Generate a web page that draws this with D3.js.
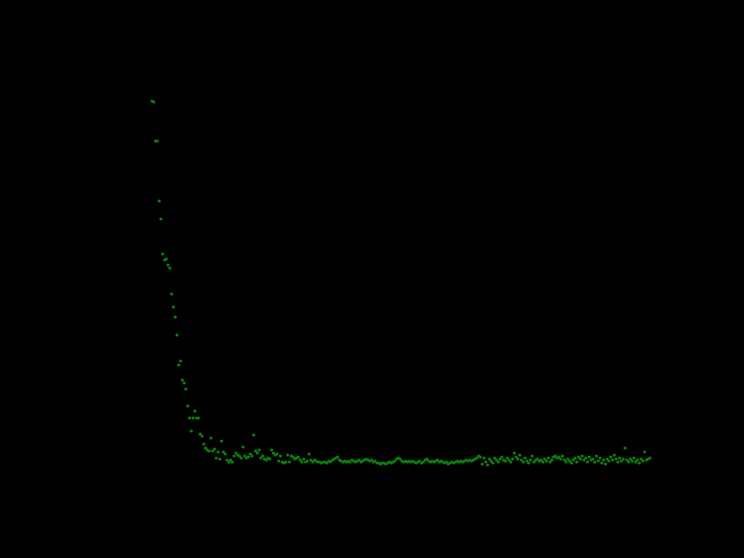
<!DOCTYPE html>
<html>
<head>
<meta charset="utf-8">
<script src="https://cdn.jsdelivr.net/npm/d3@7"></script>
<style>
  html, body { margin: 0; padding: 0; background: #000; }
  svg { display: block; }
</style>
</head>
<body>
<svg width="744" height="558"></svg>
<script>
// loss per step
const lossHead = [
  3.69, 3.68, 3.29, 3.29, 2.69, 2.51, 2.16, 2.10, 2.11, 2.05,
  2.02, 1.76, 1.63, 1.53, 1.35, 1.05, 1.09, 0.90, 0.87, 0.81,
  0.64, 0.52, 0.39, 0.52, 0.59, 0.52, 0.52, 0.36, 0.34, 0.26,
];
const lossMid = [
  0.22, 0.20, 0.19, 0.32, 0.19, 0.21, 0.12, 0.18, 0.11, 0.29,
  0.18, 0.16, 0.10, 0.08, 0.10, 0.08, 0.14, 0.17, 0.15, 0.14,
  0.12, 0.23, 0.14, 0.12, 0.13, 0.16, 0.14, 0.35, 0.19, 0.17,
  0.20, 0.12, 0.14, 0.11, 0.10, 0.12, 0.11, 0.20, 0.17, 0.15,
  0.16, 0.09, 0.14, 0.08, 0.07, 0.08, 0.15, 0.08, 0.14, 0.13,
  0.11, 0.12, 0.13, 0.10, 0.08, 0.11, 0.08, 0.09, 0.16, 0.10,
  0.08, 0.10, 0.09, 0.08, 0.08, 0.07, 0.08, 0.08, 0.07, 0.09,
  0.08, 0.10, 0.11, 0.12, 0.13, 0.10, 0.09, 0.08, 0.09, 0.08,
  0.09, 0.08, 0.10, 0.09, 0.08, 0.09, 0.10, 0.08, 0.09, 0.10,
  0.11, 0.10, 0.09, 0.10, 0.08, 0.09, 0.07, 0.07, 0.06, 0.07,
  0.07, 0.06, 0.07, 0.08, 0.07, 0.08, 0.09, 0.11, 0.12, 0.11,
  0.09, 0.08, 0.09, 0.08, 0.09, 0.08, 0.09, 0.08, 0.07, 0.08,
];
const lossTail = [
  0.09, 0.07, 0.08, 0.10, 0.11, 0.09, 0.08, 0.09, 0.08, 0.09,
  0.10, 0.08, 0.09, 0.08, 0.07, 0.08, 0.06, 0.07, 0.08, 0.07,
  0.08, 0.09, 0.08, 0.09, 0.08, 0.09, 0.10, 0.09, 0.10, 0.09,
  0.10, 0.11, 0.12, 0.14, 0.13, 0.06, 0.12, 0.08, 0.05, 0.11,
  0.09, 0.07, 0.12, 0.10, 0.08, 0.11, 0.13, 0.10, 0.09, 0.12,
  0.10, 0.08, 0.11, 0.17, 0.13, 0.11, 0.15, 0.10, 0.08, 0.12,
  0.09, 0.07, 0.10, 0.14, 0.08, 0.10, 0.11, 0.09, 0.10, 0.08,
  0.11, 0.09, 0.12, 0.08, 0.10, 0.13, 0.14, 0.12, 0.13, 0.11,
  0.14, 0.10, 0.08, 0.11, 0.09, 0.07, 0.10, 0.12, 0.08, 0.13,
  0.11, 0.14, 0.10, 0.12, 0.08, 0.13, 0.10, 0.11, 0.08, 0.14,
  0.09, 0.12, 0.07, 0.10, 0.06, 0.11, 0.09, 0.13, 0.10, 0.15,
  0.11, 0.08, 0.12, 0.09, 0.11, 0.22, 0.10, 0.08, 0.11, 0.09,
  0.12, 0.08, 0.10, 0.07, 0.11, 0.09, 0.18, 0.10, 0.11, 0.12,
];

const loss = [...lossHead, ...lossMid, ...lossTail];
const steps = loss.map((d, i) => i);

const svg = d3.select("svg");

const x = d3.scaleLinear([0, steps.length - 1], [152, 650]);
const y = d3.scaleLinear([0, 3.7], [470, 100]);

svg.append("rect")
  .attr("width", 744)
  .attr("height", 558)
  .style("fill", "#000");

svg.append("g")
  .selectAll("circle")
  .data(steps)
  .join("circle")
  .attr("cx", (d) => x(d))
  .attr("cy", (d) => y(loss[d]))
  .attr("r", 1.6)
  .style("fill", "#0b800b");
</script>
</body>
</html>
